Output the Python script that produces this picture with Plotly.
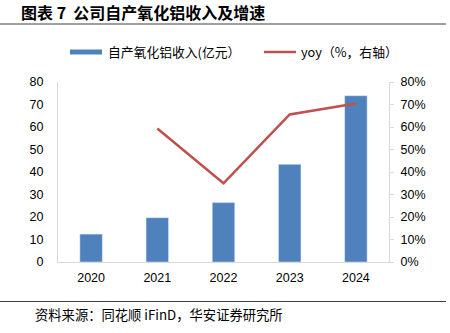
import plotly.graph_objects as go

years = ["2020", "2021", "2022", "2023", "2024"]
revenue = [12.4, 19.7, 26.4, 43.4, 73.9]
yoy = [None, 59.3, 35.0, 65.6, 70.4]
left_ticks = [0, 10, 20, 30, 40, 50, 60, 70, 80]
right_ticks = [0, 10, 20, 30, 40, 50, 60, 70, 80]
right_tick_text = [f"{v}%" for v in right_ticks]

W, H = 450, 333
L, R, T, B = 58, 61, 82, 71
pw, ph = W - L - R, H - T - B

def px(x):
    return (x - L) / pw

def py(y):
    return (H - B - y) / ph

BAR = "#4f81bd"
RED = "#c0504d"
AX = "#d9d9d9"
NUM = "Liberation Sans, Arial, sans-serif"
CJK = "Noto Sans CJK SC"
TF = dict(family=NUM, size=12.5, color="#000")

fig = go.Figure()
fig.add_trace(go.Bar(x=years, y=revenue, marker_color=BAR, width=0.34,
                     name="自产氧化铝收入(亿元）", yaxis="y"))
fig.add_trace(go.Scatter(x=years, y=yoy, mode="lines", line=dict(color=RED, width=2.5),
                         name="yoy（%，右轴）", yaxis="y2", connectgaps=False))

fig.update_layout(
    width=W, height=H, autosize=False,
    margin=dict(l=L, r=R, t=T, b=B),
    paper_bgcolor="white", plot_bgcolor="white",
    showlegend=False,
    xaxis=dict(showgrid=False, showline=True, linecolor=AX, linewidth=1, ticks="",
               tickfont=TF, zeroline=False, ticklabelstandoff=4),
    yaxis=dict(range=[0, 80], tickvals=left_ticks, showgrid=False, showline=True,
               linecolor=AX, linewidth=1, ticks="", zeroline=False,
               tickfont=TF, ticklabelstandoff=11),
    yaxis2=dict(range=[0, 80], tickvals=right_ticks, ticktext=right_tick_text,
                overlaying="y", side="right", showgrid=False, showline=True,
                linecolor=AX, linewidth=1, ticks="outside", ticklen=4, tickcolor=AX,
                zeroline=False, tickfont=TF, ticklabelstandoff=4),
)

shapes = [
    dict(type="line", xref="paper", yref="paper", x0=px(0), x1=px(446), y0=py(24), y1=py(24),
         line=dict(color="#404040", width=1)),
    dict(type="line", xref="paper", yref="paper", x0=px(0), x1=px(446), y0=py(301.5), y1=py(301.5),
         line=dict(color="#404040", width=1)),
    dict(type="rect", xref="paper", yref="paper", x0=px(70), x1=px(102), y0=py(54.5), y1=py(49.5),
         fillcolor=BAR, line=dict(width=0)),
    dict(type="line", xref="paper", yref="paper", x0=px(264), x1=px(296), y0=py(52), y1=py(52),
         line=dict(color=RED, width=2.5)),
]
fig.update_layout(shapes=shapes)

ann = [
    dict(text="<b>图表 7  公司自产氧化铝收入及增速</b>", x=px(19), y=py(12), xanchor="left",
         yanchor="middle", font=dict(family=CJK, size=16, color="#000")),
    dict(text="自产氧化铝收入(亿元）", x=px(106), y=py(52), xanchor="left", yanchor="middle",
         font=dict(family=CJK, size=12.8, color="#000")),
    dict(text="yoy（%，右轴）", x=px(299), y=py(52), xanchor="left", yanchor="middle",
         font=dict(family=CJK, size=12.8, color="#000")),
    dict(text="资料来源：同花顺 iFinD，华安证券研究所", x=px(33), y=py(314), xanchor="left",
         yanchor="middle", font=dict(family=CJK, size=13.3, color="#000")),
]
for a in ann:
    a.update(xref="paper", yref="paper", showarrow=False)
fig.update_layout(annotations=ann)

fig.write_html("out.html")
